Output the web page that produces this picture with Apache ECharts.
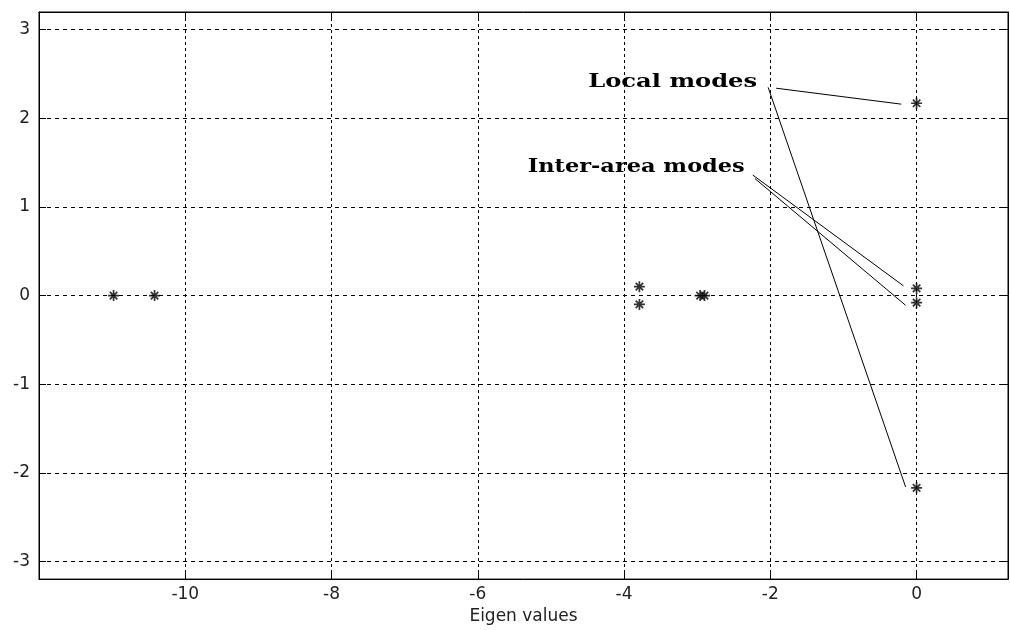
<!DOCTYPE html>
<html><head><meta charset="utf-8">
<script src="https://cdn.jsdelivr.net/npm/echarts@6/dist/echarts.min.js"></script>
<style>html,body{margin:0;padding:0;background:#fff}#c{width:1010px;height:630px}</style>
</head><body><div id="c"></div>
<script>
// ---- data ----
const eigenReal = [-10.98, -10.42, -3.79, -3.79, -2.96, -2.90, 0, 0, 0, 0];
const eigenImag = [0, 0, 0.10, -0.10, 0, 0, 2.17, 0.08, -0.08, -2.17];
const xTicks = [-10, -8, -6, -4, -2, 0];
const yTicks = [-3, -2, -1, 0, 1, 2, 3];
const xRange = [-12, 1.25];
const yRange = [-3.2, 3.2];
const xName = 'Eigen values';
const annotationTexts = ['Local modes', 'Inter-area modes'];
const annotationAnchors = [[-2.18, 2.41], [-2.35, 1.45]];
const localLines = [[[-1.92, 2.34], [-0.21, 2.16]], [[-2.03, 2.35], [-0.15, -2.16]]];
const interLines = [[[-2.24, 1.36], [-0.18, 0.11]], [[-2.21, 1.32], [-0.15, -0.11]]];

// ---- styles ----
const annoFont = 'bold 18px "DejaVu Serif"';
const annoTargetWidths = [169, 217];
const tickFont = { fontFamily: 'DejaVu Sans', fontSize: 17, color: '#222' };
const starPath = 'path://M5,0L5,10M0,5L10,5M1.6,1.6L8.4,8.4M1.6,8.4L8.4,1.6';

const chart = echarts.init(document.getElementById('c'), null, { renderer: 'canvas' });
const points = eigenReal.map((x, i) => [x, eigenImag[i]]);
const segs = localLines.concat(interLines).map(s => [{ coord: s[0] }, { coord: s[1] }]);

const baseAxis = {
  type: 'value',
  axisLine: { show: true, onZero: false, lineStyle: { color: '#000', width: 1 } },
  axisTick: { show: true, inside: true, length: 7, lineStyle: { color: '#000', width: 1 } },
};

chart.setOption({
  animation: false,
  backgroundColor: '#fff',
  grid: { left: 39, right: 2, top: 12, bottom: 47, show: true, borderColor: '#000', borderWidth: 1, backgroundColor: 'transparent' },
  xAxis: [
    Object.assign({}, baseAxis, {
      position: 'bottom', min: xRange[0], max: xRange[1],
      name: xName, nameLocation: 'middle', nameGap: 26,
      nameTextStyle: Object.assign({}, tickFont),
      axisTick: Object.assign({}, baseAxis.axisTick, { customValues: xTicks }),
      axisLabel: Object.assign({ customValues: xTicks, margin: 7 }, tickFont),
      splitLine: { show: true, lineStyle: { color: '#000', width: 1, type: [3, 3] } }
    }),
    Object.assign({}, baseAxis, {
      position: 'top', min: xRange[0], max: xRange[1],
      axisTick: Object.assign({}, baseAxis.axisTick, { customValues: xTicks }),
      axisLabel: { show: false }, splitLine: { show: false }
    })
  ],
  yAxis: [
    Object.assign({}, baseAxis, {
      position: 'left', min: yRange[0], max: yRange[1],
      axisTick: Object.assign({}, baseAxis.axisTick, { customValues: yTicks }),
      axisLabel: Object.assign({ customValues: yTicks, margin: 9 }, tickFont),
      splitLine: { show: true, lineStyle: { color: '#000', width: 1, type: [4, 4] } }
    }),
    Object.assign({}, baseAxis, {
      position: 'right', min: yRange[0], max: yRange[1],
      axisTick: Object.assign({}, baseAxis.axisTick, { customValues: yTicks }),
      axisLabel: { show: false }, splitLine: { show: false }
    })
  ],
  series: [{
    type: 'scatter',
    xAxisIndex: 0, yAxisIndex: 0,
    data: points,
    symbol: starPath,
    symbolSize: 11,
    itemStyle: { color: '#000', borderColor: '#000', borderWidth: 1.7 },
    markLine: {
      silent: true, symbol: ['none', 'none'], label: { show: false },
      lineStyle: { color: '#000', width: 1, type: 'solid' },
      emphasis: { disabled: true },
      data: segs
    },
    z: 5
  }]
});

// annotation labels positioned in data coordinates
const mctx = document.createElement('canvas').getContext('2d');
mctx.font = annoFont;
const graphics = annotationTexts.map((t, i) => {
  const p = chart.convertToPixel({ xAxisIndex: 0, yAxisIndex: 0 }, annotationAnchors[i]);
  const w = mctx.measureText(t).width;
  return {
    type: 'text', x: p[0], y: p[1], scaleX: annoTargetWidths[i] / w, z: 10,
    style: { text: t, font: annoFont, fill: '#000', align: 'right', verticalAlign: 'middle' }
  };
});
chart.setOption({ graphic: graphics });
</script>
</body></html>
